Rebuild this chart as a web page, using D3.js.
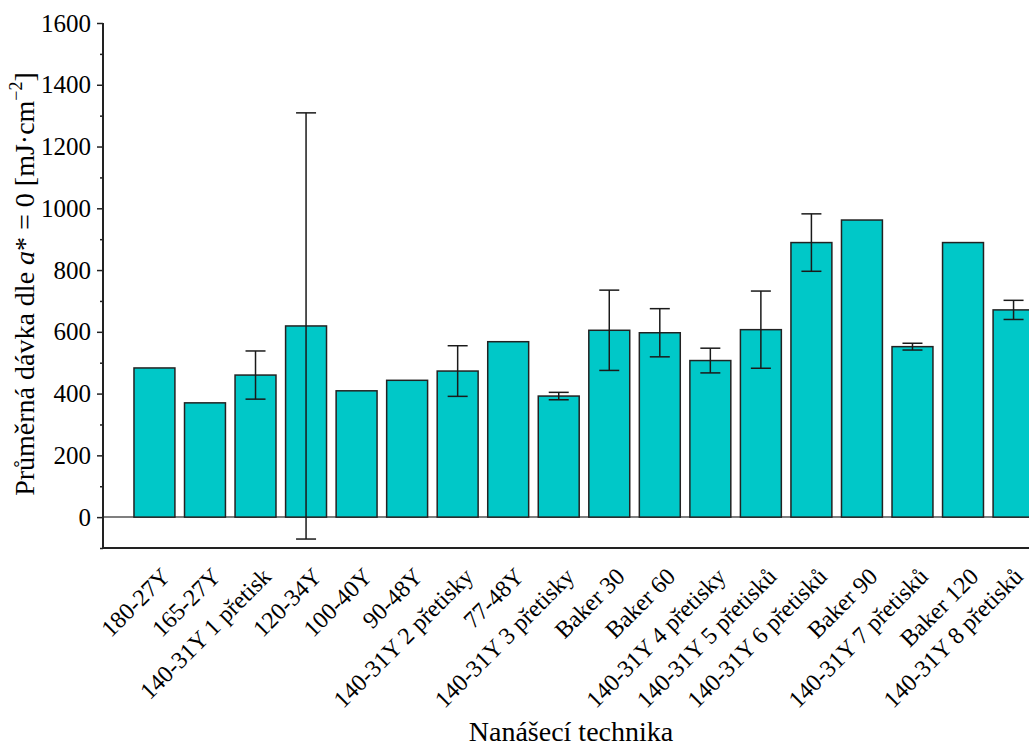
<!DOCTYPE html>
<html>
<head>
<meta charset="utf-8">
<script src="https://cdn.jsdelivr.net/npm/d3@7"></script>
<style>
  html, body { margin: 0; padding: 0; background: #fff; }
  svg { display: block; }
  text { font-family: "Liberation Serif", "Times New Roman", serif; fill: #000; }
</style>
</head>
<body>
<script>
const categories = [
  "180-27Y", "165-27Y", "140-31Y 1 přetisk", "120-34Y", "100-40Y", "90-48Y",
  "140-31Y 2 přetisky", "77-48Y", "140-31Y 3 přetisky", "Baker 30", "Baker 60",
  "140-31Y 4 přetisky", "140-31Y 5 přetisků", "140-31Y 6 přetisků", "Baker 90",
  "140-31Y 7 přetisků", "Baker 120", "140-31Y 8 přetisků"
];
const values = [483, 370, 460, 619, 409, 443, 473, 568, 392, 605, 597, 507, 607, 889, 962, 552, 889, 671];
const errors = [null, null, 78, 690, null, null, 82, null, 12, 130, 78, 40, 125, 93, null, 11, null, 31];
const yTicks = [0, 200, 400, 600, 800, 1000, 1200, 1400, 1600];
const yMinorTicks = [-100, 100, 300, 500, 700, 900, 1100, 1300, 1500];

const W = 1029, H = 747;
const svg = d3.select("body").append("svg").attr("width", W).attr("height", H);

const axisX = 103;
const y = d3.scaleLinear().domain([-100, 1600]).range([548, 23]);
const x = d3.scaleBand().domain(categories).range([axisX, 1065])
  .paddingInner(0.19).paddingOuter(0.613);

// zero line
svg.append("line")
  .attr("x1", axisX).attr("x2", W).attr("y1", y(0)).attr("y2", y(0))
  .attr("stroke", "#555").attr("stroke-width", 1.5);

// bars
svg.append("g").selectAll("rect").data(categories).join("rect")
  .attr("x", d => x(d))
  .attr("width", x.bandwidth())
  .attr("y", (d, i) => y(values[i]))
  .attr("height", (d, i) => y(0) - y(values[i]))
  .attr("fill", "#00C8C8")
  .attr("stroke", "#222")
  .attr("stroke-width", 1.5);

// error bars
const eg = svg.append("g").attr("stroke", "#1a1a1a").attr("stroke-width", 1.5);
categories.forEach((c, i) => {
  const e = errors[i];
  if (e == null) return;
  const cx = x(c) + x.bandwidth() / 2;
  const hi = y(values[i] + e), lo = y(values[i] - e);
  eg.append("line").attr("x1", cx).attr("x2", cx).attr("y1", hi).attr("y2", lo);
  eg.append("line").attr("x1", cx - 10).attr("x2", cx + 10).attr("y1", hi).attr("y2", hi);
  eg.append("line").attr("x1", cx - 10).attr("x2", cx + 10).attr("y1", lo).attr("y2", lo);
});

// y axis
const yAxis = d3.axisLeft(y).tickValues(yTicks).tickFormat(d3.format("d"))
  .tickSize(6).tickPadding(6).tickSizeOuter(0);
const gy = svg.append("g").attr("transform", `translate(${axisX},0)`).call(yAxis);
gy.select(".domain").remove();
gy.selectAll(".tick line").attr("stroke", "#222").attr("stroke-width", 1.5);
gy.selectAll(".tick text").attr("font-size", 25).attr("font-family", "Liberation Serif").attr("fill", "#000");
const yMinor = d3.axisLeft(y).tickValues(yMinorTicks).tickSize(3).tickFormat("");
const gym = svg.append("g").attr("transform", `translate(${axisX},0)`).call(yMinor);
gym.select(".domain").remove();
gym.selectAll(".tick line").attr("stroke", "#222").attr("stroke-width", 1.5);

svg.append("line").attr("x1", axisX).attr("x2", axisX).attr("y1", y(1600)).attr("y2", y(-100))
  .attr("stroke", "#222").attr("stroke-width", 2);

// bottom axis line
svg.append("line").attr("x1", axisX).attr("x2", W).attr("y1", y(-100)).attr("y2", y(-100))
  .attr("stroke", "#222").attr("stroke-width", 2);

// x labels
const xAxis = d3.axisBottom(x).tickSize(0).tickPadding(0);
const gx = svg.append("g").attr("transform", `translate(0,${y(-100)})`).call(xAxis);
gx.select(".domain").remove();
const lastCat = categories[categories.length - 1];
gx.selectAll(".tick text")
  .attr("font-size", 24).attr("font-family", "Liberation Serif").attr("fill", "#000")
  .attr("text-anchor", "end")
  .attr("dy", 0)
  .attr("y", 0)
  .attr("transform", d => d === lastCat ? "translate(11,30) rotate(-45)" : "translate(17,30) rotate(-45)");

// axis titles
svg.append("text")
  .attr("x", 571).attr("y", 741)
  .attr("text-anchor", "middle")
  .attr("font-size", 28)
  .text("Nanášecí technika");

const yt = svg.append("text")
  .attr("transform", "translate(34,284) rotate(-90)")
  .attr("text-anchor", "middle")
  .attr("font-size", 28);
yt.append("tspan").text("Průměrná dávka dle ");
yt.append("tspan").attr("font-style", "italic").text("a");
yt.append("tspan").text("* = 0 [mJ·cm");
yt.append("tspan").attr("font-size", 18).attr("dy", -12).text("−2");
yt.append("tspan").attr("dy", 12).text("]");
</script>
</body>
</html>
